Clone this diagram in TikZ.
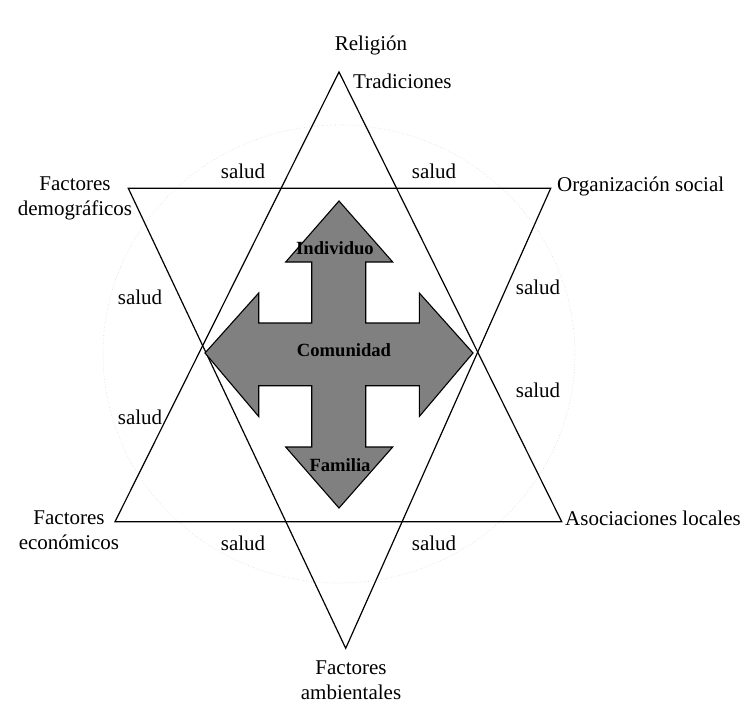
\documentclass[tikz,border=0pt]{standalone}
\usepackage{fontspec}
\setmainfont{Liberation Serif}
\definecolor{arrowgray}{HTML}{808080}
\definecolor{circgray}{HTML}{D8D8D8}
\begin{document}
\begin{tikzpicture}[x=1pt,y=-1pt,
  lbl/.style={inner sep=0pt,font=\fontsize{21}{25}\selectfont},
  mlbl/.style={lbl,align=center},
  blbl/.style={inner sep=0pt,font=\fontsize{18.6}{22}\selectfont\bfseries},
  tri/.style={draw=black,line width=1.2pt,line join=miter},
  cross/.style={draw=black,fill=arrowgray,line width=1.1pt,line join=miter},
  ring/.style={draw=circgray,dotted,line width=0.6pt}]
\useasboundingbox (0,0) rectangle (741,709);
% faint circle
\draw[ring] (339,354) ellipse [x radius=236, y radius=229];
% triangle vertices
\coordinate (ut) at (339,72);
\coordinate (ul) at (115,521.7);
\coordinate (ur) at (561.7,521.7);
\coordinate (dl) at (128.3,188.3);
\coordinate (dr) at (550.7,188.3);
\coordinate (db) at (345.7,648.3);
\draw[tri] (ut) -- (ul) -- (ur) -- cycle;
\draw[tri] (dl) -- (dr) -- (db) -- cycle;
% cross arrow
\draw[cross] (339,201) -- (392.7,262) -- (365.7,262) -- (365.7,323) -- (419.3,323) -- (419.3,293)
  -- (473,353) -- (419.3,416.5) -- (419.3,385.7) -- (365.7,385.7) -- (365.7,447) -- (392.7,447)
  -- (339,508) -- (285.7,447) -- (311.7,447) -- (311.7,385.7) -- (258.7,385.7) -- (258.7,416.5)
  -- (205,353) -- (258.7,293) -- (258.7,323) -- (311.7,323) -- (311.7,262) -- (285.7,262) -- cycle;
% labels inside
\node[blbl] (indiv) at (335,248) {Individuo};
\node[blbl] (comun) at (344,350) {Comunidad};
\node[blbl] (famil) at (340,465) {Familia};
% outer labels
\node[lbl] (relig) at (371,45.7) {Religión};
\node[lbl,anchor=west] (tradi) at (353,81.7) {Tradiciones};
\node[lbl,anchor=west] (orgsoc) at (557,186.7) {Organización social};
\node[lbl,anchor=west] (asoc) at (565,518) {Asociaciones locales};
\node[mlbl] (fdem) at (75,198) {Factores\\demográficos};
\node[mlbl] (feco) at (69,530.5) {Factores\\económicos};
\node[mlbl] (famb) at (351,680.5) {Factores\\ambientales};
% salud labels
\node[lbl] (s1) at (243,171) {salud};
\node[lbl] (s2) at (434,171) {salud};
\node[lbl] (s3) at (140,297) {salud};
\node[lbl] (s4) at (140,417) {salud};
\node[lbl] (s5) at (538,287) {salud};
\node[lbl] (s6) at (538,390) {salud};
\node[lbl] (s7) at (243,543) {salud};
\node[lbl] (s8) at (434,543) {salud};
\end{tikzpicture}
\end{document}
